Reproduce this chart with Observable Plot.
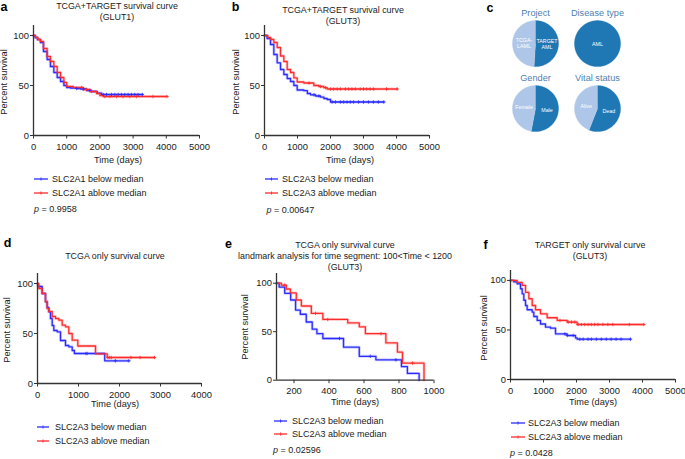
<!DOCTYPE html>
<html><head><meta charset="utf-8">
<script src="https://cdn.jsdelivr.net/npm/d3@7"></script>
<script src="https://cdn.jsdelivr.net/npm/@observablehq/plot@0.6"></script>
<style>
body{margin:0;background:#fff;font-family:"Liberation Sans",Arial,sans-serif;color:#222;}
#fig{position:relative;width:685px;height:459px;overflow:hidden;background:#fff;}
.abs{position:absolute;white-space:nowrap;line-height:1;}
svg.pl{position:absolute;overflow:visible;}
</style></head><body><div id="fig"></div>
<script>
// ---------- shared ticks ----------
const yTicks = [0, 50, 100];
const xTicks5000 = [0, 1000, 2000, 3000, 4000, 5000];
const xTicks4000 = [0, 1000, 2000, 3000, 4000];
const xTicksE = [200, 400, 600, 800, 1000];

// ---------- panel a: TCGA+TARGET, GLUT1 ----------
const aBelowT = [0, 50, 120, 210, 300, 410, 510, 613, 713, 815, 915, 1000, 1115, 1300, 1416, 1600, 1750, 1918, 2050, 3280];
const aBelowS = [100, 98, 96, 93, 84, 76, 69, 63, 58, 54, 50, 48, 47.5, 47, 46.5, 45, 44, 42.4, 41, 41];
const aBelowC = [1300, 1500, 1700, 2100, 2200, 2350, 2450, 2550, 2650, 2750, 2850, 2950, 3050, 3150, 3280];
const aAboveT = [0, 60, 130, 210, 300, 410, 510, 613, 713, 815, 915, 1000, 1200, 1500, 1700, 1900, 2000, 2100, 4020];
const aAboveS = [100, 98, 96, 94, 87, 79, 74, 69, 63, 58, 53, 49, 48, 46, 44, 42, 40, 39, 39];
const aAboveC = [1450, 1600, 1750, 2150, 2300, 2500, 2700, 2900, 3100, 3600, 4020];

// ---------- panel b: TCGA+TARGET, GLUT3 ----------
const bBelowT = [0, 80, 182, 283, 384, 485, 586, 687, 788, 890, 990, 1192, 1300, 1394, 1550, 1697, 1800, 1899, 2000, 3616];
const bBelowS = [100, 97, 91, 81, 72.7, 66, 61, 57, 54, 50, 45.5, 44.8, 42, 40.7, 39.5, 38.4, 37, 36, 33.5, 33.5];
const bBelowC = [1500, 1650, 2050, 2150, 2300, 2400, 2500, 2600, 2700, 2850, 3000, 3150, 3300, 3450, 3616];
const bAboveT = [0, 100, 182, 283, 384, 485, 586, 687, 788, 889, 990, 1192, 1495, 1650, 1798, 1900, 4020];
const bAboveS = [100, 98, 96, 93, 88, 79.5, 74, 66, 63, 57.6, 53.5, 52.5, 50, 49, 47.8, 46.5, 46.5];
const bAboveC = [1350, 1700, 1850, 2000, 2100, 2200, 2300, 2450, 2550, 2650, 2750, 2900, 3000, 3100, 3200, 3300, 3700, 4020];

// ---------- panel d: TCGA only ----------
const dBelowT = [0, 10, 114, 195, 236, 276, 317, 358, 398, 480, 561, 683, 764, 846, 900, 1640, 2228];
const dBelowS = [100, 97, 90, 81.7, 76, 71.7, 65, 58, 53, 51.7, 43, 38, 36.7, 33, 30, 22.7, 22.7];
const dBelowC = [1180, 1210, 1900, 2228];
const dAboveT = [0, 33, 114, 195, 236, 276, 358, 439, 520, 602, 683, 764, 846, 983, 1415, 1700, 2854];
const dAboveS = [100, 95, 90, 82, 75, 72, 67, 65, 63.3, 58.3, 56.7, 50, 43.3, 37.5, 29.7, 26, 26];
const dAboveC = [1720, 1760, 1800, 2280, 2500, 2854];

// ---------- panel e: TCGA only landmark 100-1200 ----------
const eBelowT = [100, 115, 147, 181, 209, 236, 270, 304, 331, 365, 483, 573, 668, 814, 848, 915];
const eBelowS = [100, 96, 89.6, 82.7, 72.3, 68, 60, 52.6, 48, 43, 34, 24.6, 21, 14, 7, 0];
const eBelowC = [460, 636, 782];
const eAboveT = [100, 128, 156, 179, 213, 242, 299, 365, 507, 573, 608, 725, 791, 820, 943];
const eAboveS = [100, 98, 94, 90, 82.7, 76.5, 68.9, 62.6, 59, 55, 48, 38.4, 29, 17.6, 0];
const eAboveC = [147, 323, 393, 697, 877];

// ---------- panel f: TARGET only ----------
const fBelowT = [0, 100, 202, 303, 354, 404, 455, 505, 657, 707, 808, 909, 1060, 1212, 1364, 1717, 1970, 2020, 3636];
const fBelowS = [100, 98.5, 96.6, 91.6, 86.5, 80, 74.7, 70.4, 68, 63.6, 59.6, 56, 52.9, 51.8, 46, 44.4, 42, 40.7, 40.7];
const fBelowC = [1650, 1720, 1900, 2100, 2200, 2350, 2450, 2600, 2750, 2900, 3050, 3200, 3350, 3636];
const fAboveT = [0, 200, 354, 455, 556, 657, 758, 909, 1111, 1414, 1717, 2020, 4040];
const fAboveS = [100, 98, 95, 88, 81.5, 74.7, 70.4, 66.3, 62.3, 59.6, 58, 55.5, 55.5];
const fAboveC = [1500, 1750, 1850, 1950, 2050, 2150, 2250, 2350, 2450, 2550, 2650, 2800, 2950, 3100, 3600, 4040];

// ---------- panel c: pies ----------
const pieCharts = ["Project", "Disease type", "Gender", "Vital status"];
const pieCols = [0, 1, 0, 1];
const pieRows = [0, 0, 1, 1];
const pieLabels = [["TARGET\nAML", "TCGA-\nLAML"], ["AML"], ["Male", "Female"], ["Dead", "Alive"]];
const pieValues = [[51, 49], [100], [53, 47], [56, 44]];
const pieShades = [["dark", "light"], ["dark"], ["dark", "light"], ["dark", "light"]];

// ---------- texts ----------
const legendGLUT1 = ["SLC2A1 below median", "SLC2A1 ablove median"];
const legendGLUT3 = ["SLC2A3 below median", "SLC2A3 ablove median"];
const pValues = {a: "0.9958", b: "0.00647", e: "0.02596", f: "0.0428"};

const BLUE = "#2b2bff", RED = "#ff2b2b";
const FONT = '"Liberation Sans", Arial, sans-serif';
const fig = document.getElementById("fig");
const fmt = d => String(d);

function stepAt(ts, ss, t) { let v = ss[0]; for (let i = 0; i < ts.length; i++) if (ts[i] <= t) v = ss[i]; return v; }

function survPanel(cfg) {
  const ml = 30, mr = 16, mt = 4, mb = 18;
  const pw = cfg.xEnd - cfg.axisX, ph = cfg.yBottom - cfg.yTop;
  const rows = [], cens = [];
  cfg.series.forEach(s => {
    s.t.forEach((t, i) => rows.push({t, s: s.s[i], g: s.g}));
    s.c.forEach(t => cens.push({t, s: stepAt(s.t, s.s, t), g: s.g}));
  });
  const p = Plot.plot({
    width: ml + pw + mr, height: mt + ph + mb,
    marginLeft: ml, marginRight: mr, marginTop: mt, marginBottom: mb,
    x: {domain: cfg.xDomain},
    y: {domain: [0, 110]},
    color: {domain: ["below", "above"], range: [BLUE, RED]},
    style: {fontFamily: FONT, fontSize: "9.4px", color: "#222", background: "transparent", overflow: "visible"},
    marks: [
      Plot.line(rows, {x: "t", y: "s", z: "g", stroke: "g", curve: "step-after", strokeWidth: 3, strokeOpacity: 0.22}),
      Plot.line(rows, {x: "t", y: "s", z: "g", stroke: "g", curve: "step-after", strokeWidth: 1.3}),
      Plot.dot(cens, {x: "t", y: "s", stroke: "g", symbol: "plus", r: 1.2, strokeWidth: 0.8}),
      Plot.ruleX([cfg.xDomain[0]], {y1: 0, y2: 110, stroke: "#333", strokeWidth: 1.3}),
      Plot.ruleY([0], {x1: cfg.xDomain[0], x2: cfg.xDomain[1], stroke: "#333", strokeWidth: 1.3}),
      Plot.axisX({ticks: cfg.xTicks, tickFormat: fmt, tickSize: 3.5, tickPadding: 4, label: null, stroke: "#333"}),
      Plot.axisY({ticks: yTicks, tickFormat: fmt, tickSize: 3, tickPadding: 1.5, label: null, stroke: "#333"})
    ]
  });
  p.classList.add("pl");
  p.style.left = (cfg.axisX - ml) + "px";
  p.style.top = (cfg.yTop - mt) + "px";
  fig.appendChild(p);
}

function addText(html, x, y, o = {}) {
  const d = document.createElement("div");
  d.className = "abs";
  d.innerHTML = html;
  d.style.left = x + "px"; d.style.top = y + "px";
  d.style.fontSize = (o.size || 9) + "px";
  if (o.weight) d.style.fontWeight = o.weight;
  d.style.color = o.color || "#222";
  const tx = o.anchor === "start" ? "0" : o.anchor === "end" ? "-100%" : "-50%";
  d.style.transform = `translate(${tx},-50%)` + (o.rotate ? ` rotate(${o.rotate}deg)` : "");
  fig.appendChild(d);
}

function addLegend(labels, x0, x1, tx, ys) {
  [BLUE, RED].forEach((c, i) => {
    const s = document.createElementNS("http://www.w3.org/2000/svg", "svg");
    s.setAttribute("width", x1 - x0); s.setAttribute("height", 6);
    s.style.position = "absolute"; s.style.left = x0 + "px"; s.style.top = (ys[i] - 3) + "px";
    const m = (x1 - x0) / 2;
    s.innerHTML = `<line x1="0" y1="3" x2="${x1 - x0}" y2="3" stroke="${c}" stroke-width="1.3"/><line x1="${m}" y1="1.5" x2="${m}" y2="4.5" stroke="${c}" stroke-width="0.9"/>`;
    fig.appendChild(s);
    addText(labels[i], tx, ys[i], {anchor: "start", size: 9});
  });
}

// ---------- draw survival panels ----------
survPanel({axisX: 33, xEnd: 199, yTop: 25, yBottom: 135, xDomain: [0, 5000], xTicks: xTicks5000,
  series: [{g: "below", t: aBelowT, s: aBelowS, c: aBelowC}, {g: "above", t: aAboveT, s: aAboveS, c: aAboveC}]});
survPanel({axisX: 264, xEnd: 429, yTop: 25, yBottom: 135, xDomain: [0, 5000], xTicks: xTicks5000,
  series: [{g: "below", t: bBelowT, s: bBelowS, c: bBelowC}, {g: "above", t: bAboveT, s: bAboveS, c: bAboveC}]});
survPanel({axisX: 37, xEnd: 201, yTop: 273, yBottom: 383, xDomain: [0, 4000], xTicks: xTicks4000,
  series: [{g: "below", t: dBelowT, s: dBelowS, c: dBelowC}, {g: "above", t: dAboveT, s: dAboveS, c: dAboveC}]});
survPanel({axisX: 275.5, xEnd: 433, yTop: 273.3, yBottom: 380, xDomain: [100, 1000], xTicks: xTicksE,
  series: [{g: "below", t: eBelowT, s: eBelowS, c: eBelowC}, {g: "above", t: eAboveT, s: eAboveS, c: eAboveC}]});
survPanel({axisX: 510, xEnd: 675, yTop: 270, yBottom: 379, xDomain: [0, 5000], xTicks: xTicks5000,
  series: [{g: "below", t: fBelowT, s: fBelowS, c: fBelowC}, {g: "above", t: fAboveT, s: fAboveS, c: fAboveC}]});

// ---------- pies (panel c) ----------
const slicePts = [], sliceLab = [], pieTitles = [];
pieCharts.forEach((ch, k) => {
  const total = d3.sum(pieValues[k]);
  let a0 = 0;
  pieValues[k].forEach((v, j) => {
    const a1 = a0 + v / total * 2 * Math.PI;
    const base = {id: ch + j, fx: pieCols[k], fy: pieRows[k], shade: pieShades[k][j]};
    const n = Math.max(2, Math.ceil((a1 - a0) / (Math.PI / 90)));
    if (v < total) slicePts.push({...base, x: 0, y: 0});
    for (let i = 0; i <= n; i++) {
      const a = a0 + (a1 - a0) * i / n;
      slicePts.push({...base, x: Math.sin(a), y: Math.cos(a)});
    }
    const mid = (a0 + a1) / 2, rr = v === total ? 0 : 0.5;
    sliceLab.push({fx: pieCols[k], fy: pieRows[k], x: rr * Math.sin(mid), y: rr * Math.cos(mid), text: pieLabels[k][j]});
    a0 = a1;
  });
  pieTitles.push({fx: pieCols[k], fy: pieRows[k], x: 0, y: 1.35, text: ch});
});
const pie = Plot.plot({
  width: 124, height: 130, margin: 0,
  fx: {domain: [0, 1], padding: 0, axis: null},
  fy: {domain: [0, 1], padding: 0, axis: null},
  x: {domain: [-1.348, 1.348], axis: null},
  y: {domain: [-1.3, 1.526], axis: null},
  color: {domain: ["dark", "light"], range: ["#1f77b4", "#aec7e8"]},
  style: {fontFamily: FONT, background: "transparent", overflow: "visible"},
  marks: [
    Plot.line(slicePts, {x: "x", y: "y", z: "id", fx: "fx", fy: "fy", fill: "shade", stroke: "shade", strokeWidth: 0.4}),
    Plot.text(sliceLab, {x: "x", y: "y", fx: "fx", fy: "fy", text: "text", fill: "white", fontSize: 5.3, lineHeight: 1.15}),
    Plot.text(pieTitles, {x: "x", y: "y", fx: "fx", fy: "fy", text: "text", fill: "#4f7fb0", fontSize: 9.2})
  ]
});
pie.classList.add("pl");
pie.style.left = "504px"; pie.style.top = "8px";
fig.appendChild(pie);

// ---------- titles ----------
addText("TCGA+TARGET survival curve", 117, 6, {size: 8.9});
addText("(GLUT1)", 117, 17, {size: 8.9});
addText("TCGA+TARGET survival curve", 343, 10, {size: 8.9});
addText("(GLUT3)", 343, 21, {size: 8.9});
addText("TCGA only survival curve", 115, 256, {size: 8.9});
addText("TCGA only survival curve", 345, 245, {size: 8.9});
addText("landmark analysis for time segment: 100&lt;Time &lt; 1200", 345, 255.5, {size: 8.9});
addText("(GLUT3)", 345, 267, {size: 8.9});
addText("TARGET only survival curve", 590, 245, {size: 8.9});
addText("(GLUT3)", 590, 255.5, {size: 8.9});

// ---------- panel letters ----------
[["a", 4, 6.5], ["b", 235.5, 6.5], ["c", 490, 7.5], ["d", 7.5, 243], ["e", 228.5, 244], ["f", 485.5, 244.5]]
  .forEach(([l, x, y]) => addText(l, x, y, {size: 12.5, weight: "bold", color: "#000"}));

// ---------- axis labels ----------
[[5, 82], [237, 82], [7.5, 330], [246, 327], [484.5, 328]]
  .forEach(([x, y]) => addText("Percent survival", x, y, {size: 9.2, rotate: -90}));
[[118, 160.5], [350, 160.5], [115, 405], [355, 402.5], [593, 402.5]]
  .forEach(([x, y]) => addText("Time (days)", x, y, {size: 9.2}));

// ---------- legends ----------
addLegend(legendGLUT1, 34, 48, 52, [179, 193]);
addLegend(legendGLUT3, 265, 278, 282, [179, 193]);
addLegend(legendGLUT3, 37, 49, 55, [427, 441]);
addLegend(legendGLUT3, 274, 287, 292, [421, 434]);
addLegend(legendGLUT3, 511, 525, 528, [423, 437]);
addText(`<i>p</i> = ${pValues.a}`, 34, 209, {anchor: "start", size: 9});
addText(`<i>p</i> = ${pValues.b}`, 266.5, 210, {anchor: "start", size: 9});
addText(`<i>p</i> = ${pValues.e}`, 273, 450, {anchor: "start", size: 9});
addText(`<i>p</i> = ${pValues.f}`, 510, 452.7, {anchor: "start", size: 9});
</script></body></html>
